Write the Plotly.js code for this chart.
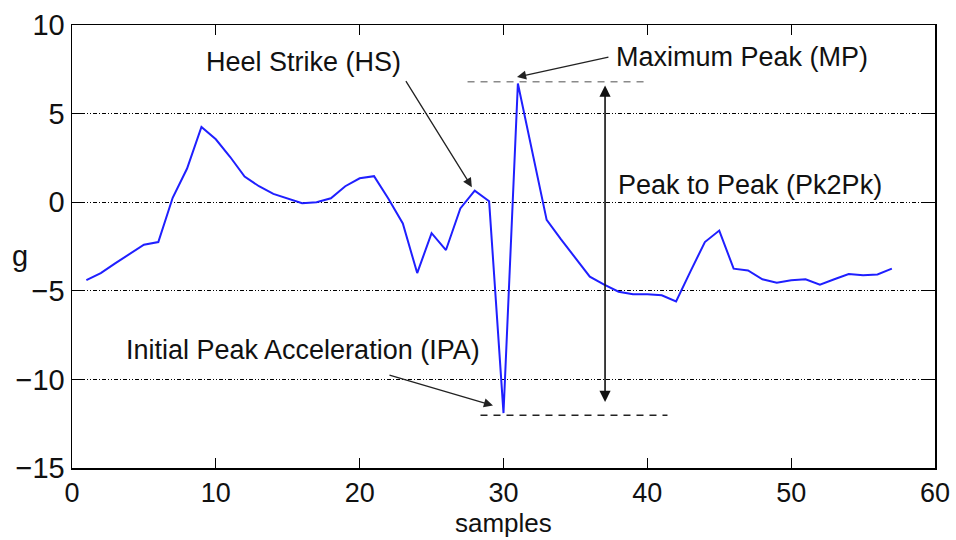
<!DOCTYPE html>
<html>
<head>
<meta charset="utf-8">
<script src="https://cdn.plot.ly/plotly-3.0.1.min.js"></script>
<style>
  html, body { margin: 0; padding: 0; background: #ffffff; }
  #chart { width: 956px; height: 540px; }
</style>
</head>
<body>
<div id="chart"></div>
<script>
// ---- data ----
const samples = [1,2,3,4,5,6,7,8,9,10,11,12,13,14,15,16,17,18,19,20,
                 21,22,23,24,25,26,27,28,29,30,31,32,33,34,35,36,37,38,39,40,
                 41,42,43,44,45,46,47,48,49,50,51,52,53,54,55,56,57];
const accel = [-4.4,-4.0,-3.45,-2.9,-2.4,-2.25,0.25,1.9,4.25,3.55,
               2.55,1.45,0.9,0.47,0.22,-0.06,0.0,0.22,0.9,1.35,
               1.47,0.2,-1.2,-4.0,-1.75,-2.7,-0.35,0.65,0.05,-11.9,
               6.7,2.85,-1.0,-2.1,-3.15,-4.2,-4.65,-5.05,-5.2,-5.2,
               -5.25,-5.6,-3.9,-2.25,-1.6,-3.75,-3.85,-4.35,-4.55,-4.4,
               -4.35,-4.65,-4.35,-4.05,-4.12,-4.08,-3.75];
const xTicks = [0,10,20,30,40,50,60];
const yTicks = [-15,-10,-5,0,5,10];
const labels = {
  hs: 'Heel Strike (HS)',
  mp: 'Maximum Peak (MP)',
  p2p: 'Peak to Peak (Pk2Pk)',
  ipa: 'Initial Peak Acceleration (IPA)',
  xTitle: 'samples',
  yTitle: 'g'
};

// key points derived from the data
const maxY = Math.max(...accel), maxX = samples[accel.indexOf(maxY)];
const minY = Math.min(...accel), minX = samples[accel.indexOf(minY)];
const hsX = 28, hsY = accel[samples.indexOf(hsX)];

const FONT = 'Liberation Sans, Arial, Helvetica, sans-serif';
const annFont = {family: FONT, size: 27, color: '#111'};
const arrowCol = '#222';

const trace = {
  x: samples, y: accel, type: 'scatter', mode: 'lines',
  line: {color: '#1f1fff', width: 2}, hoverinfo: 'skip'
};

const layout = {
  width: 956, height: 540,
  margin: {l: 72, r: 21, t: 25, b: 72},
  paper_bgcolor: '#ffffff', plot_bgcolor: '#ffffff',
  showlegend: false,
  font: {family: FONT, size: 29, color: '#111'},
  xaxis: {
    range: [0, 60], tickvals: xTicks, ticktext: xTicks.map(String),
    ticks: 'inside', ticklen: 10, tickwidth: 1.2, tickcolor: '#000',
    showline: true, linecolor: '#000', linewidth: 1.5, mirror: 'ticks',
    showgrid: false, zeroline: false,
    tickfont: {family: FONT, size: 27, color: '#111'}
  },
  yaxis: {
    range: [-15, 10], tickvals: yTicks,
    ticks: 'inside', ticklen: 10, tickwidth: 1.2, tickcolor: '#000',
    showline: true, linecolor: '#000', linewidth: 1.5, mirror: 'ticks',
    showgrid: true, gridcolor: '#000', gridwidth: 1,
    griddash: '4px,2px,1px,2px,4px,2px,1px,2px,1px,2px',
    zeroline: false,
    tickfont: {family: FONT, size: 29, color: '#111'}
  },
  shapes: [
    {type: 'line', xref: 'x', yref: 'y', x0: 27.5, x1: 39.8, y0: maxY + 0.1, y1: maxY + 0.1,
     line: {color: '#8a8a8a', width: 1.5, dash: '7px,6px'}},
    {type: 'line', xref: 'x', yref: 'y', x0: 28.4, x1: 41.4, y0: minY - 0.13, y1: minY - 0.13,
     line: {color: '#222', width: 1.5, dash: '7px,6px'}}
  ],
  annotations: [
    {xref: 'paper', yref: 'paper', x: 0.5, y: -0.124, text: labels.xTitle, showarrow: false,
     font: {family: FONT, size: 26, color: '#111'}, xanchor: 'center', yanchor: 'middle'},
    {xref: 'paper', yref: 'paper', x: -0.06, y: 0.478, text: labels.yTitle, showarrow: false,
     font: {family: FONT, size: 29, color: '#111'}, xanchor: 'center', yanchor: 'middle'},
    // Heel strike
    {xref: 'x', yref: 'y', x: 16.06, y: 7.93, text: labels.hs, showarrow: false, font: annFont},
    {xref: 'x', yref: 'y', axref: 'x', ayref: 'y', x: hsX - 0.2, y: hsY + 0.2, ax: 23.15, ay: 6.92,
     text: '', showarrow: true, arrowhead: 2, arrowsize: 1.4, arrowwidth: 1.3, arrowcolor: arrowCol, standoff: 0},
    // Maximum peak
    {xref: 'x', yref: 'y', x: 46.6, y: 8.21, text: labels.mp, showarrow: false, font: annFont},
    {xref: 'x', yref: 'y', axref: 'x', ayref: 'y', x: maxX - 0.06, y: maxY + 0.36, ax: 37.4, ay: 8.2,
     text: '', showarrow: true, arrowhead: 2, arrowsize: 1.4, arrowwidth: 1.3, arrowcolor: arrowCol, standoff: 0},
    // Peak to peak
    {xref: 'x', yref: 'y', x: 47.14, y: 0.98, text: labels.p2p, showarrow: false, font: annFont},
    {xref: 'x', yref: 'y', axref: 'x', ayref: 'y', x: 37.06, y: maxY - 0.12, ax: 37.06, ay: minY + 0.54,
     text: '', showarrow: true, arrowside: 'end+start', arrowhead: 2, arrowsize: 1.4, arrowwidth: 1.6,
     arrowcolor: '#111', standoff: 0, startstandoff: 0},
    // IPA
    {xref: 'x', yref: 'y', x: 16.06, y: -8.33, text: labels.ipa, showarrow: false, font: annFont},
    {xref: 'x', yref: 'y', axref: 'x', ayref: 'y', x: minX - 0.73, y: minY + 0.43, ax: 21.97, ay: -9.73,
     text: '', showarrow: true, arrowhead: 2, arrowsize: 1.4, arrowwidth: 1.3, arrowcolor: arrowCol, standoff: 0}
  ]
};

Plotly.newPlot('chart', [trace], layout, {staticPlot: true, displayModeBar: false});
</script>
</body>
</html>
